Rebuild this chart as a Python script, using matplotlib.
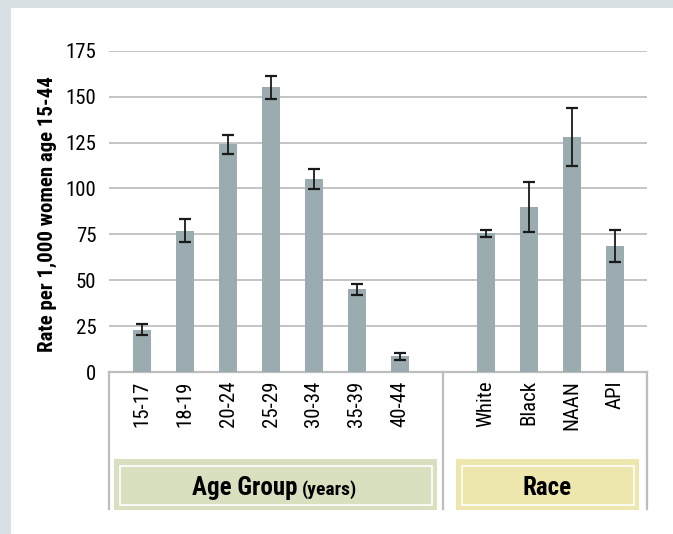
import matplotlib
matplotlib.use("Agg")
import matplotlib.pyplot as plt
import matplotlib.transforms as mtransforms
from matplotlib import font_manager
from matplotlib.patches import Rectangle

# data
age_groups = ["15-17", "18-19", "20-24", "25-29", "30-34", "35-39", "40-44"]
age_rates = [23, 77, 124, 155, 105, 45, 8.5]
age_err = [3, 6.3, 5, 6.3, 5.5, 3, 2]

races = ["White", "Black", "NAAN", "API"]
race_rates = [75.5, 90, 128, 68.5]
race_err = [2, 13.5, 16, 8.6]

y_ticks = [0, 25, 50, 75, 100, 125, 150, 175]

# condensed gothic look
names = {f.name for f in font_manager.fontManager.ttflist}
wanted = ["Roboto Condensed", "Archivo Narrow", "PT Sans Narrow",
          "Liberation Sans Narrow"]
fams = [n for n in wanted if n in names] + ["DejaVu Sans"]
plt.rcParams["font.family"] = fams
fs_tick, fs_ylab, fs_group, fs_years = 15, 15, 18, 14

W, H = 673, 534
bar_color = "#9aacaf"
grid_color = "#c4c4c4"
frame_color = "#d8e0e3"

fig = plt.figure(figsize=(W / 100, H / 100), dpi=100)
fig.patch.set_facecolor("white")


def px(x0, y0, x1, y1):
    # pixel box (top-left origin) -> figure fraction rect
    return (x0 / W, 1 - y1 / H, (x1 - x0) / W, (y1 - y0) / H)


# light frame on the left and top
for r in [px(0, 0, 11, H), px(0, 0, W, 8)]:
    fig.add_artist(Rectangle(r[:2], r[2], r[3], transform=fig.transFigure,
                             facecolor=frame_color, edgecolor="none", zorder=0))

ax = fig.add_axes(px(109, 50.7, 647, 372))

x_age = list(range(len(age_groups)))
x_race = [len(age_groups) + 1 + i for i in range(len(races))]
gap = len(age_groups)

ekw = dict(ecolor="#1a1a1a", elinewidth=1.3, capsize=4.5, capthick=1.6)
ax.bar(x_age, age_rates, width=0.42, color=bar_color, yerr=age_err,
       error_kw=ekw, zorder=3)
ax.bar(x_race, race_rates, width=0.42, color=bar_color, yerr=race_err,
       error_kw=ekw, zorder=3)

ax.set_xlim(-0.77, x_race[-1] + 0.75)
ax.set_ylim(0, 175)
ax.set_yticks(y_ticks)
ax.set_xticks(x_age + x_race)
ax.set_xticklabels(age_groups + races, rotation=90, va="top", ha="center")

ax.set_axisbelow(True)
ax.yaxis.grid(True, color=grid_color, linewidth=1.4)
for s in ["left", "top", "right"]:
    ax.spines[s].set_visible(False)
ax.spines["bottom"].set_color("#bdbdbd")
ax.spines["bottom"].set_linewidth(1.6)
ax.tick_params(axis="y", length=0, pad=9, labelsize=fs_tick)
ax.tick_params(axis="x", length=0, pad=6, labelsize=fs_tick)

# category separators below the axis
trans = mtransforms.blended_transform_factory(ax.transData, ax.transAxes)
y_low = -(509 - 372) / (372 - 50.7)
for xs in [ax.get_xlim()[0], gap, ax.get_xlim()[1]]:
    ax.plot([xs, xs], [0, y_low], transform=trans, color="#bdbdbd",
            lw=1.6, clip_on=False, zorder=1)

# group label boxes
boxes = [((114, 459, 437, 510), "#d9e0bf"), ((456, 459, 639, 510), "#ede6ad")]
for (x0, y0, x1, y1), col in boxes:
    r = px(x0, y0, x1, y1)
    fig.add_artist(Rectangle(r[:2], r[2], r[3], transform=fig.transFigure,
                             facecolor=col, edgecolor="none"))
    r = px(x0 + 6, y0 + 6.5, x1 - 5, y1 - 5)
    fig.add_artist(Rectangle(r[:2], r[2], r[3], transform=fig.transFigure,
                             facecolor="none", edgecolor="white", lw=1.2))

base = 1 - 495 / H
fig.text(297 / W, base, "Age Group", ha="right", va="baseline",
         fontsize=fs_group, fontweight="bold")
fig.text(302 / W, base, "(years)", ha="left", va="baseline",
         fontsize=fs_years, fontweight="bold")
fig.text(547.5 / W, base, "Race", ha="center", va="baseline",
         fontsize=fs_group, fontweight="bold")

fig.text(47 / W, 1 - 214.5 / H, "Rate per 1,000 women age 15-44",
         rotation=90, ha="center", va="center", fontsize=fs_ylab,
         fontweight="bold")

fig.savefig("out.png", dpi=100)
